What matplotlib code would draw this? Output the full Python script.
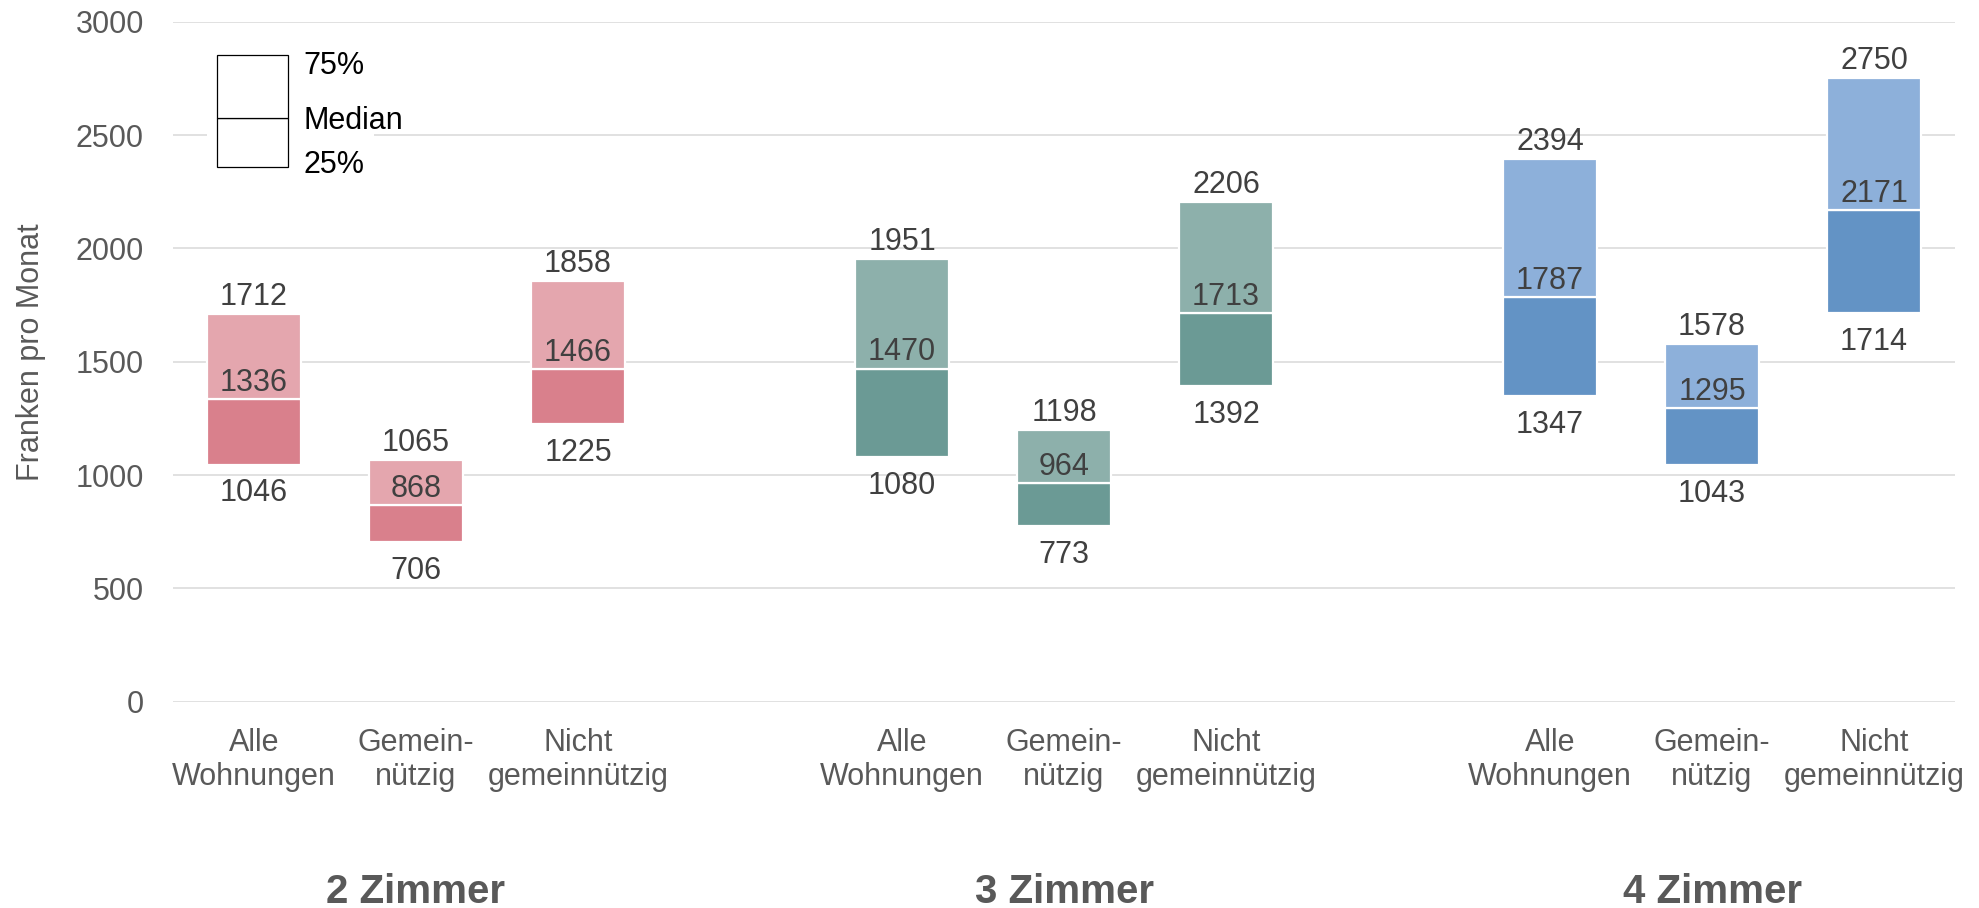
import matplotlib
matplotlib.use("Agg")
from matplotlib import pyplot as plt
from matplotlib.patches import Rectangle

plt.rcParams['font.family'] = ['Liberation Sans', 'DejaVu Sans']

# data
groups = ["2 Zimmer", "3 Zimmer", "4 Zimmer"]
categories = ["Alle\nWohnungen", "Gemein-\nnützig", "Nicht\ngemeinnützig"]

q25 = [[1046, 706, 1225],
       [1080, 773, 1392],
       [1347, 1043, 1714]]
median = [[1336, 868, 1466],
          [1470, 964, 1713],
          [1787, 1295, 2171]]
q75 = [[1712, 1065, 1858],
       [1951, 1198, 2206],
       [2394, 1578, 2750]]

colors_dark = ["#D9808C", "#6B9A95", "#6393C5"]
colors_light = ["#E4A6AE", "#8DB0AB", "#8DB0DA"]

txt_grey = "#595959"
num_grey = "#404040"

fig = plt.figure(figsize=(19.79, 9.08), dpi=100)
ax = fig.add_axes([0.0874, 0.2272, 0.9005, 0.7489])

bar_w = 0.575
ticks = []
tick_labels = []
for g in range(len(groups)):
    for c in range(len(categories)):
        x = g * 4 + c
        ticks.append(x)
        tick_labels.append(categories[c])
        lo, med, hi = q25[g][c], median[g][c], q75[g][c]
        ax.bar(x, med - lo, bottom=lo, width=bar_w, color=colors_dark[g],
               edgecolor="white", linewidth=1.6, zorder=3)
        ax.bar(x, hi - med, bottom=med, width=bar_w, color=colors_light[g],
               edgecolor="white", linewidth=1.6, zorder=3)

        ax.annotate(str(hi), (x, hi), xytext=(0, 6.5), textcoords="offset points",
                    ha="center", va="baseline", fontsize=22, color=num_grey, zorder=4)
        ax.annotate(str(med), (x, med), xytext=(0, 5.8), textcoords="offset points",
                    ha="center", va="baseline", fontsize=22, color=num_grey, zorder=4)
        ax.annotate(str(lo), (x, lo), xytext=(0, -10), textcoords="offset points",
                    ha="center", va="top", fontsize=22, color=num_grey, zorder=4)

    # group label under the category labels
    ax.annotate(groups[g], (g * 4 + 1, 0.0055), xycoords=("data", "figure fraction"),
                ha="center", va="baseline", fontsize=29, fontweight="bold",
                color=txt_grey, annotation_clip=False)

ax.set_xlim(-0.5, 10.5)
ax.set_ylim(0, 3000)
ax.set_yticks(range(0, 3001, 500))
ax.set_xticks(ticks)
ax.set_xticklabels(tick_labels, fontsize=22, color=txt_grey, linespacing=1.15)
ax.tick_params(axis="x", length=0, pad=19)
ax.tick_params(axis="y", length=0, pad=21, labelsize=22, labelcolor=txt_grey)

ax.grid(axis="y", color="#D9D9D9", linewidth=1.1, zorder=0)
ax.set_axisbelow(True)
for s in ax.spines.values():
    s.set_visible(False)

ax.set_ylabel("Franken pro Monat", fontsize=22, color=txt_grey)
ax.yaxis.set_label_coords(-0.071, 0.514)

# legend drawn by hand (box with median line)
tr = ax.transAxes
ax.add_patch(Rectangle((0.019, 0.80), 0.094, 0.15, transform=tr,
                       facecolor="white", edgecolor="none", zorder=2))
ax.add_patch(Rectangle((0.0249, 0.7868), 0.0398, 0.0712, transform=tr,
                       facecolor="white", edgecolor="black", linewidth=0.9, zorder=3))
ax.add_patch(Rectangle((0.0249, 0.858), 0.0398, 0.093, transform=tr,
                       facecolor="white", edgecolor="black", linewidth=0.9, zorder=3))
for ty, lab in [(0.935, "75%"), (0.8543, "Median"), (0.7893, "25%")]:
    ax.text(0.073, ty, lab, transform=tr, ha="left", va="center",
            fontsize=22, color="black", zorder=4)

plt.savefig("out.png", dpi=100)
